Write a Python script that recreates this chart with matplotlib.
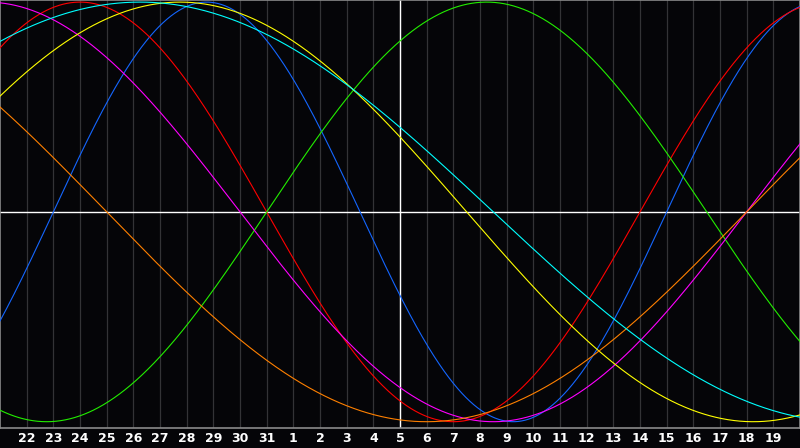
"""Biorhythm chart: seven cycles over a 30-day window."""
import numpy as np
import matplotlib
matplotlib.use("Agg")
import matplotlib.pyplot as plt

# day labels for the grid lines (index 1..29 of a 0..30 window)
day_labels = ["22", "23", "24", "25", "26", "27", "28", "29", "30", "31",
              "1", "2", "3", "4", "5", "6", "7", "8", "9", "10",
              "11", "12", "13", "14", "15", "16", "17", "18", "19"]
today_index = 15

# cycle length in days and the window index where each cycle rises through zero
cycle_names = ["physical", "emotional", "intellectual", "intuitive",
               "aesthetic", "awareness", "spiritual"]
cycle_periods = [23, 28, 33, 38, 43, 48, 53]
cycle_zero_up = [2.0, -4.0, 10.0, 28.0, -4.0, 28.0, -8.0]
cycle_colors = ["#1466ff", "#ff0000", "#22ee00", "#ff00ff",
                "#ffff00", "#ff8000", "#00ffff"]

bg = "#050508"
fig = plt.figure(figsize=(8, 4.48), dpi=100, facecolor=bg)
ax = fig.add_axes([0, 20 / 448, 1, 428 / 448], facecolor=bg)

n_days = len(day_labels) + 1
for i in range(1, n_days):
    ax.axvline(i, color="#333336", lw=0.9, zorder=1)

ax.axhline(0, color="white", lw=1.0, zorder=2)
ax.axvline(today_index, color="white", lw=1.0, zorder=2)

t = np.linspace(0, n_days, 1200)
for name, period, zero_up, color in zip(cycle_names, cycle_periods,
                                        cycle_zero_up, cycle_colors):
    ax.plot(t, np.sin(2 * np.pi * (t - zero_up) / period),
            color=color, lw=0.8, zorder=3, label=name)

ax.set_xlim(0, n_days)
ax.set_ylim(-1.03, 1.01)
ax.set_xticks(range(1, n_days))
ax.set_xticklabels(day_labels)
ax.tick_params(axis="x", length=0, pad=3, colors="white", labelsize=9)
for lbl in ax.get_xticklabels():
    lbl.set_fontweight("bold")
ax.set_yticks([])
for side, spine in ax.spines.items():
    spine.set_color("#8a8a8a")
    spine.set_linewidth(1.2)

fig.savefig("out.png", dpi=100, facecolor=bg)
